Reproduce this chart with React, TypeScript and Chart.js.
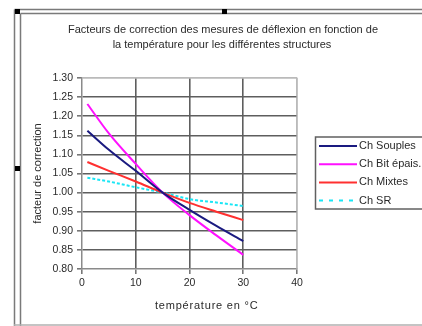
import { useEffect, useRef } from "react";
import { Chart, registerables } from "chart.js";

Chart.register(...registerables);

// ---- data ----
const temperatures = [1, 5, 10, 15, 20, 25, 30];
const souples = [1.162, 1.112, 1.057, 1.0, 0.955, 0.913, 0.873];
const bitEpais = [1.232, 1.155, 1.075, 1.0, 0.941, 0.888, 0.837];
const mixtes = [1.08, 1.057, 1.029, 1.0, 0.973, 0.95, 0.928];
const sr = [1.039, 1.029, 1.014, 1.0, 0.983, 0.974, 0.965];
const seriesLabels = ["Ch Souples", "Ch Bit épais.", "Ch Mixtes", "Ch SR"];
const seriesColors = ["#1a1a80", "#ff10ff", "#ff3030", "#19e6f5"];
const xMin = 0;
const xMax = 40;
const xStep = 10;
const yMin = 0.8;
const yMax = 1.3;
const yStep = 0.05;
const titleLines = [
  "Facteurs de correction des mesures de déflexion en fonction de",
  "la température pour les différentes structures",
];
const xTitle = "température en °C";
const yTitle = "facteur de correction";

const FONT = '"Liberation Sans", Arial, sans-serif';

export default function App() {
  const ref = useRef<HTMLCanvasElement | null>(null);

  useEffect(() => {
    const canvas = ref.current;
    if (!canvas) return;
    const seriesValues = [souples, bitEpais, mixtes, sr];

    const decor = {
      id: "decor",
      beforeDraw(chart: any) {
        const ctx = chart.ctx;
        ctx.save();
        ctx.fillStyle = "#ffffff";
        ctx.fillRect(0, 0, chart.width, chart.height);
        ctx.restore();
      },
      afterDraw(chart: any) {
        const ctx = chart.ctx;
        const ca = chart.chartArea;
        ctx.save();
        // outer frame (selected chart object)
        ctx.strokeStyle = "#7a7a7a";
        ctx.lineWidth = 1.5;
        ctx.beginPath();
        ctx.moveTo(14.5, 9.5);
        ctx.lineTo(422, 9.5);
        ctx.moveTo(20.5, 13.5);
        ctx.lineTo(422, 13.5);
        ctx.moveTo(14.5, 9.5);
        ctx.lineTo(14.5, 326);
        ctx.moveTo(20.5, 13.5);
        ctx.lineTo(20.5, 326);
        ctx.stroke();
        ctx.strokeStyle = "#b0b0b0";
        ctx.lineWidth = 1.5;
        ctx.beginPath();
        ctx.moveTo(14, 325);
        ctx.lineTo(422, 325);
        ctx.stroke();
        ctx.fillStyle = "#000000";
        ctx.fillRect(15, 9, 5, 5);
        ctx.fillRect(222, 9, 5, 5);
        ctx.fillRect(15, 166, 5, 5);

        // title
        ctx.fillStyle = "#2a2a2a";
        ctx.font = `11px ${FONT}`;
        ctx.textAlign = "center";
        ctx.textBaseline = "middle";
        ctx.fillText(titleLines[0], 223, 30);
        ctx.fillText(titleLines[1], 222, 45);

        // axis titles
        (ctx as any).letterSpacing = "0.8px";
        ctx.fillText(xTitle, ca.left + (ca.right - ca.left) * 0.58, 306);
        (ctx as any).letterSpacing = "0px";
        ctx.save();
        ctx.translate(38, (ca.top + ca.bottom) / 2);
        ctx.rotate(-Math.PI / 2);
        ctx.fillText(yTitle, 0, 0);
        ctx.restore();

        // plot border top/right
        ctx.strokeStyle = "#b8b8b8";
        ctx.lineWidth = 1.2;
        ctx.beginPath();
        ctx.moveTo(ca.left, ca.top);
        ctx.lineTo(ca.right, ca.top);
        ctx.lineTo(ca.right, ca.bottom);
        ctx.stroke();

        // legend
        const lx = 315.5;
        const ly = 137;
        ctx.strokeStyle = "#606060";
        ctx.lineWidth = 1.5;
        ctx.strokeRect(lx, ly, 120, 72);
        chart.data.datasets.forEach((ds: any, i: number) => {
          const y = 146 + i * 18.2;
          ctx.strokeStyle = ds.borderColor;
          ctx.lineWidth = 2;
          ctx.setLineDash(ds.borderDash && ds.borderDash.length ? [4, 6] : []);
          ctx.beginPath();
          ctx.moveTo(319, y);
          ctx.lineTo(357, y);
          ctx.stroke();
          ctx.setLineDash([]);
          ctx.fillStyle = "#2a2a2a";
          ctx.textAlign = "left";
          ctx.font = `11px ${FONT}`;
          ctx.fillText(ds.label, 359, y);
        });
        ctx.restore();
      },
    };

    const isNear = (a: number, b: number) => Math.abs(a - b) < 1e-6;

    const chart = new Chart(canvas, {
      type: "line",
      data: {
        datasets: seriesLabels.map((label, i) => ({
          label,
          data: temperatures.map((t, j) => ({ x: t, y: seriesValues[i][j] })),
          borderColor: seriesColors[i],
          backgroundColor: seriesColors[i],
          borderWidth: 2,
          borderDash: i === 3 ? [3, 2] : [],
          pointRadius: 0,
          cubicInterpolationMode: "monotone" as const,
          fill: false,
        })),
      },
      options: {
        animation: false,
        responsive: false,
        maintainAspectRatio: false,
        layout: { padding: { left: 22, top: 78, right: 125, bottom: 0 } },
        plugins: {
          legend: { display: false },
          title: { display: false },
          tooltip: { enabled: false },
        },
        scales: {
          x: {
            type: "linear",
            min: xMin,
            max: xMax,
            afterFit: (s: any) => {
              s.height = 57;
            },
            ticks: {
              stepSize: xStep,
              color: "#2a2a2a",
              font: { family: FONT, size: 10.5 },
              padding: 3,
              maxRotation: 0,
            },
            grid: {
              color: (c: any) =>
                c.tick && (isNear(c.tick.value, xMax) ? "#bdbdbd" : isNear(c.tick.value, xMin) ? "rgba(0,0,0,0)" : "#5e5e5e"),
              lineWidth: 1.6,
              tickLength: 5,
              tickColor: "#777777",
              drawTicks: true,
            },
            border: { display: true, color: "#8a8a8a", width: 1.5 },
          },
          y: {
            type: "linear",
            min: yMin,
            max: yMax,
            afterFit: (s: any) => {
              s.width = 60;
            },
            ticks: {
              stepSize: yStep,
              color: "#2a2a2a",
              font: { family: FONT, size: 10.5 },
              padding: 4,
              callback: (v: any) => Number(v).toFixed(2),
            },
            grid: {
              color: (c: any) =>
                c.tick && (isNear(c.tick.value, yMax) ? "#bdbdbd" : isNear(c.tick.value, yMin) ? "rgba(0,0,0,0)" : "#5e5e5e"),
              lineWidth: 1.6,
              tickLength: 5,
              tickColor: "#777777",
              drawTicks: true,
            },
            border: { display: true, color: "#8a8a8a", width: 1.5 },
          },
        },
      },
      plugins: [decor],
    });

    return () => chart.destroy();
  }, []);

  return (
    <div style={{ position: "fixed", left: 0, top: 0, width: 422, height: 326, background: "#fff" }}>
      <canvas ref={ref} width={422} height={326} style={{ display: "block", width: 422, height: 326 }} />
    </div>
  );
}
